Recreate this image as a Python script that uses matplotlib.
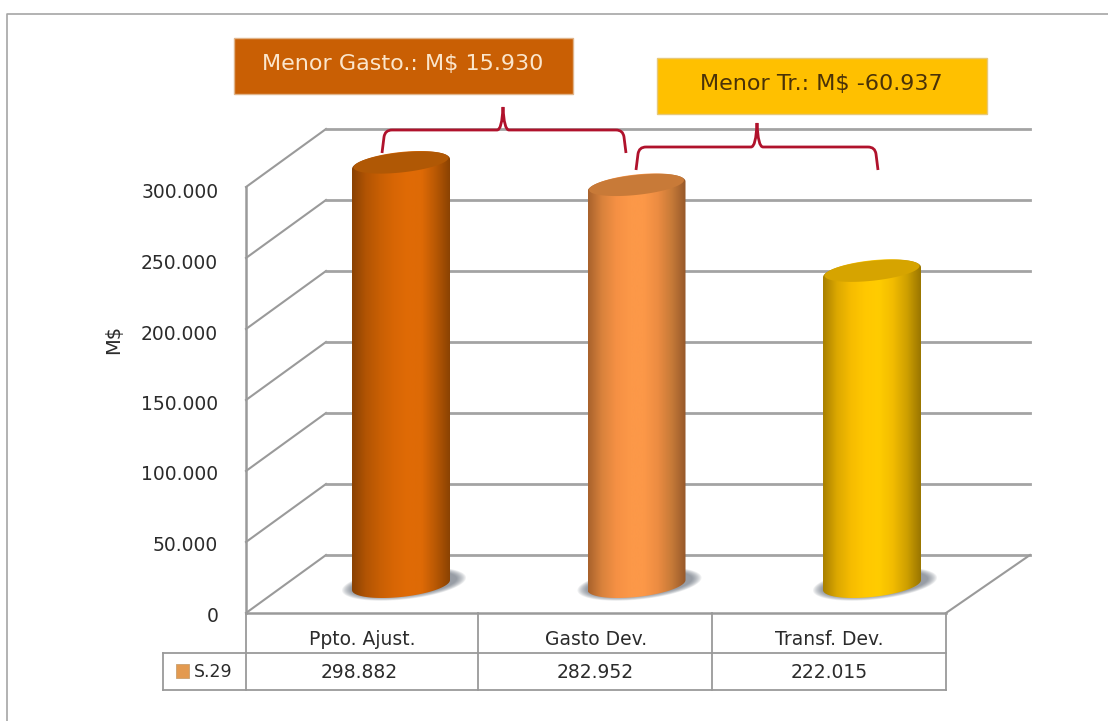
import numpy as np
from matplotlib import pyplot as plt
from matplotlib.colors import LinearSegmentedColormap
from matplotlib.patches import Polygon, Rectangle, PathPatch
from matplotlib.path import Path
from matplotlib.transforms import ScaledTranslation

categories = ["Ppto. Ajust.", "Gasto Dev.", "Transf. Dev."]
values = [298882, 282952, 222015]
value_labels = ["298.882", "282.952", "222.015"]
series_name = "S.29"
y_ticks = [0, 50000, 100000, 150000, 200000, 250000, 300000]
y_tick_labels = ["0", "50.000", "100.000", "150.000", "200.000", "250.000", "300.000"]
y_label = "M$"
note_gasto = "Menor Gasto.: M$ 15.930"
note_transf = "Menor Tr.: M$ -60.937"

W, H = 1108, 721
GRAY = "#a3a3a3"
LINE = "#9a9a9a"
TXT = "#2b2b2b"
RED = "#b0122c"
FS = 13.5

plt.rcParams["font.family"] = "DejaVu Sans"
fig = plt.figure(figsize=(W / 100, H / 100), dpi=100, facecolor="white")


def box(x0, y_top, x1, y_bot):
    return [x0 / W, 1 - y_bot / H, (x1 - x0) / W, (y_bot - y_top) / H]


# front plane of the chart, value axis and category axis
ax = fig.add_axes(box(246, 187, 946, 613), zorder=1)
ax.set_xlim(-0.5, 2.5)
ax.set_ylim(0, 300000)
ax.patch.set_alpha(0)
for s in ["top", "right"]:
    ax.spines[s].set_visible(False)
for s in ["left", "bottom"]:
    ax.spines[s].set_color(LINE)
    ax.spines[s].set_linewidth(1.8)
ax.set_yticks(y_ticks)
ax.set_yticklabels(y_tick_labels, fontsize=FS, color=TXT)
ax.set_xticks(range(len(categories)))
ax.set_xticklabels(categories, fontsize=FS, color=TXT)
ax.tick_params(axis="y", length=0, pad=20)
ax.tick_params(axis="x", length=0, pad=12)
# labels drift a little under their gridline further up in the original
for lab, v in zip(ax.get_yticklabels(), y_ticks):
    off = (1 + 3 * v / y_ticks[-1]) / 100
    lab.set_transform(lab.get_transform() + ScaledTranslation(0, -off, fig.dpi_scale_trans))
ax.set_ylabel(y_label, fontsize=14, color=TXT)
ax.yaxis.set_label_coords(-0.176, 0.643)

# depth of the fake 3d walls
dx = 80 / (700 / 3)
dv = 58 / (426 / 300000)
x_end = -0.5 + (1030 - 246) / (700 / 3)
for v in y_ticks:
    ax.plot([-0.5, -0.5 + dx], [v, v + dv], color=LINE, lw=1.5, clip_on=False, zorder=1)
    ax.plot([-0.5 + dx, x_end], [v + dv, v + dv], color=GRAY, lw=2, clip_on=False, zorder=1)
ax.plot([2.5, x_end], [0, dv], color=LINE, lw=1.5, clip_on=False, zorder=1)

# cylinders live on their own axes since they sit back from the front plane
cx = fig.add_axes([0, 0, 1, 1], zorder=2)
kx = 235.5
ky = 421 / 298882
base_y = 585
xlim = (-401 / kx, (W - 401) / kx)
ylim = (-(H - base_y) / ky, base_y / ky)
cx.set_xlim(xlim)
cx.set_ylim(ylim)
cx.axis("off")

body_colors = [
    ["#8a4203", "#b25403", "#c85f04", "#d86605", "#e06b06", "#de6a06", "#b85804", "#8a4202"],
    ["#a8622c", "#d9823c", "#f59044", "#fc9848", "#fc9848", "#ec8c42", "#c67a38", "#96582a"],
    ["#a88000", "#dca800", "#f6bc00", "#ffc800", "#ffcc00", "#f2bc00", "#cfa000", "#9a7600"],
]
top_colors = ["#b05805", "#c87a38", "#d6a400"]
shadow_color = "#5c6470"

half_w = 49
half_h = 12
tilt = 5 / 49
t = np.linspace(0, 2 * np.pi, 121)


def ell(i, v, a=half_w, b=half_h, shift=0, lift=0):
    px = a * np.cos(t)
    py = b * np.sin(t) + tilt * px + lift
    return i + (px + shift) / kx, v + py / ky


for i, v in enumerate(values):
    # soft shadow round the foot
    for g in range(10):
        xs, ys = ell(i, 0, 62 - g, 15.5 - g * 0.4, shift=3, lift=1)
        cx.add_patch(Polygon(np.c_[xs, ys], closed=True, fc=shadow_color, ec="none", alpha=0.09))

    # body, gradient image clipped by the outline
    half = t[:61]
    px = half_w * np.cos(half)
    front_x = i + px / kx
    low = (-half_h * np.sin(half) + tilt * px) / ky
    high = v + (half_h * np.sin(half) + tilt * px) / ky
    outline = np.r_[np.c_[front_x, low], np.c_[front_x[::-1], high[::-1]]]
    cmap = LinearSegmentedColormap.from_list("cyl%d" % i, body_colors[i])
    im = cx.imshow(np.linspace(0, 1, 256).reshape(1, -1), cmap=cmap, aspect="auto",
                   extent=[i - half_w / kx, i + half_w / kx, -half_h * 2 / ky, v + half_h * 2 / ky],
                   zorder=2, interpolation="bilinear")
    clip = Polygon(outline, closed=True, transform=cx.transData, fc="none", ec="none")
    cx.add_patch(clip)
    im.set_clip_path(clip)
    # lid, inset so the body colour shows as a bevel on the lower rim
    xt, yt = ell(i, v, half_w - 1.5, half_h - 2, lift=1.5)
    cx.add_patch(Polygon(np.c_[xt, yt], closed=True, fc=top_colors[i], ec="none", zorder=3))

cx.set_xlim(xlim)
cx.set_ylim(ylim)

# overlay in image pixels: table, notes, braces, frame
ov = fig.add_axes([0, 0, 1, 1], zorder=3)
ov.set_xlim(0, W)
ov.set_ylim(H, 0)
ov.axis("off")

ov.plot([7, 7, W], [H, 14, 14], color="#a6a6a6", lw=1.2)

tx = [246, 478, 712, 946]
for x in tx:
    ov.plot([x, x], [613, 690], color=LINE, lw=1.3)
ov.plot([163, 946], [653, 653], color=LINE, lw=1.3)
ov.plot([163, 946], [690, 690], color=LINE, lw=1.3)
ov.plot([163, 163], [653, 690], color=LINE, lw=1.3)
ov.add_patch(Rectangle((176, 664), 13, 14, fc="#e39a50", ec="#c9a070", lw=0.6))
ov.text(194, 672, series_name, fontsize=FS - 1, color=TXT, ha="left", va="center")
for i, lab in enumerate(value_labels):
    ov.text((tx[i] + tx[i + 1]) / 2 + (-3 if i == 0 else 0), 672, lab, fontsize=FS, color=TXT, ha="center", va="center")

ov.add_patch(Rectangle((234, 38), 339, 56, fc="#c95f04", ec="#e0b48a", lw=1))
ov.text(403, 64, note_gasto, fontsize=16, color="#fbe6cc", ha="center", va="center")
ov.add_patch(Rectangle((657, 58), 330, 56, fc="#ffc000", ec="#e6c87a", lw=1))
ov.text(821, 84, note_transf, fontsize=16, color="#4a3208", ha="center", va="center")


def brace(x0, x1, xm, y, y_tip, y0):
    C = Path.CURVE3
    L = Path.LINETO
    verts = [(x0, y0), (x0 + 2, y + 7), (x0 + 3, y), (x0 + 10, y), (xm - 6, y), (xm - 1, y), (xm, y_tip),
             (xm + 1, y), (xm + 6, y), (x1 - 10, y), (x1 - 3, y), (x1 - 2, y + 7), (x1, y0)]
    codes = [Path.MOVETO, L, C, C, L, C, C, C, C, L, C, C, L]
    ov.add_patch(PathPatch(Path(verts, codes), fc="none", ec=RED, lw=2))


brace(382, 626, 503, 130, 107, 153)
brace(636, 878, 757, 147, 123, 170)

fig.savefig("out.png", dpi=100)
